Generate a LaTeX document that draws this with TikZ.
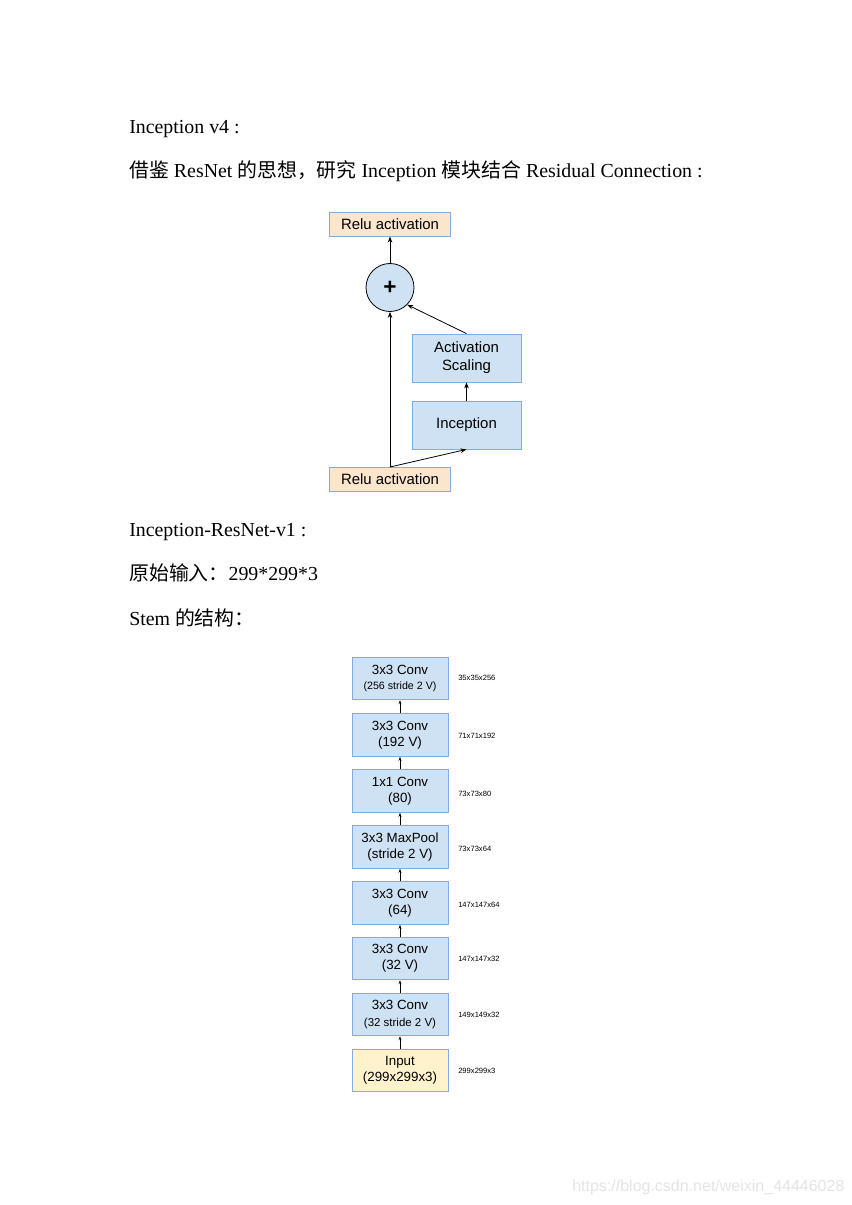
\documentclass[tikz,border=0pt]{standalone}
\usepackage{fontspec}
\setmainfont{Liberation Serif}
\newfontfamily\cjk{Noto Sans CJK SC}
\newfontfamily\arial{Liberation Sans}
\usetikzlibrary{arrows.meta}
\definecolor{boxblue}{HTML}{CFE2F3}
\definecolor{boxedge}{HTML}{7FAEE6}
\definecolor{peach}{HTML}{FCE5CD}
\definecolor{inputy}{HTML}{FFF2CC}
\definecolor{wm}{HTML}{E4E4E4}
\tikzset{
  doc/.style={anchor=base west, inner sep=0pt, font=\fontsize{14.9}{17}\selectfont},
  bluebox/.style={draw=boxedge, fill=boxblue, line width=0.6pt, inner sep=0pt, align=center,
    font=\arial\fontsize{11.2}{13.5}\selectfont},
  peachbox/.style={bluebox, fill=peach},
  stembox/.style={draw=boxedge, fill=boxblue, line width=0.6pt, inner sep=0pt, align=center,
    minimum width=72pt, minimum height=32pt, font=\arial\fontsize{10}{12.2}\selectfont},
  dimlabel/.style={anchor=west, inner sep=0pt, font=\arial\fontsize{5.7}{6.5}\selectfont},
  arr/.style={-{Stealth[length=4.5pt,width=3.4pt]}, line width=0.6pt},
  sarr/.style={-{Stealth[length=3pt,width=2.2pt]}, line width=0.6pt},
}
\begin{document}
\begin{tikzpicture}[x=0.75pt,y=-0.75pt]
\useasboundingbox (0,0) rectangle (852,1205);
% text lines
\node[doc] (t1) at (129,134) {Inception v4 :};
\node[doc] (t2) at (129,178) {{\cjk 借鉴} ResNet {\cjk 的思想，研究} Inception {\cjk 模块结合} Residual Connection :};
\node[doc] (t3) at (129,536) {Inception-ResNet-v1 :};
\node[doc] (t4) at (129,580) {{\cjk 原始输入：}299*299*3};
\node[doc] (t5) at (129,625) {Stem {\cjk 的结构：}};

% residual block
\node[peachbox, minimum width=90.75pt, minimum height=17.5pt] (relutop) at (390,224.5) {Relu activation};
\node[circle, draw=black, fill=boxblue, line width=0.6pt, minimum size=36pt, inner sep=0pt,
  font=\arial\bfseries\fontsize{17}{17}\selectfont] (plus) at (390,287.5) {+};
\node[bluebox, minimum width=81.75pt, minimum height=36pt] (scale) at (466.5,358) {Activation\\Scaling};
\node[bluebox, minimum width=81.75pt, minimum height=36pt] (incep) at (466.5,425) {Inception};
\node[peachbox, minimum width=90.75pt, minimum height=18pt] (relubot) at (390,479) {Relu activation};
\coordinate (rb) at (390,467);
\draw[arr] (rb) -- (plus.south);
\draw[arr] (rb) -- (incep.south);
\draw[arr] (incep.north) -- (scale.south);
\draw[arr] (scale.north) -- (plus.-45);
\draw[arr] (plus.north) -- (relutop.south);

% stem
\node[stembox] (s8) at (400,678.5) {3x3 Conv\\[-1pt]{\fontsize{8}{9}\selectfont(256 stride 2 V)}};
\node[stembox] (s7) at (400,735) {3x3 Conv\\(192 V)};
\node[stembox] (s6) at (400,791) {1x1 Conv\\(80)};
\node[stembox] (s5) at (400,847) {3x3 MaxPool\\(stride 2 V)};
\node[stembox] (s4) at (400,903) {3x3 Conv\\(64)};
\node[stembox] (s3) at (400,958.5) {3x3 Conv\\(32 V)};
\node[stembox] (s2) at (400,1014.5) {3x3 Conv\\{\fontsize{8.6}{10}\selectfont(32 stride 2 V)}};
\node[stembox, fill=inputy] (s1) at (400,1070.5) {Input\\(299x299x3)};
\draw[sarr] (s1) -- (s2);
\draw[sarr] (s2) -- (s3);
\draw[sarr] (s3) -- (s4);
\draw[sarr] (s4) -- (s5);
\draw[sarr] (s5) -- (s6);
\draw[sarr] (s6) -- (s7);
\draw[sarr] (s7) -- (s8);

\node[dimlabel] (d8) at (458,678) {35x35x256};
\node[dimlabel] (d7) at (458,736) {71x71x192};
\node[dimlabel] (d6) at (458,794) {73x73x80};
\node[dimlabel] (d5) at (458,849) {73x73x64};
\node[dimlabel] (d4) at (458,905) {147x147x64};
\node[dimlabel] (d3) at (458,959) {147x147x32};
\node[dimlabel] (d2) at (458,1015) {149x149x32};
\node[dimlabel] (d1) at (458,1071) {299x299x3};

% watermark
\node[anchor=west, inner sep=0pt, text=wm, font=\arial\fontsize{12}{14}\selectfont] (wm) at (572,1187) {https://blog.csdn.net/weixin\_44446028};
\end{tikzpicture}
\end{document}
